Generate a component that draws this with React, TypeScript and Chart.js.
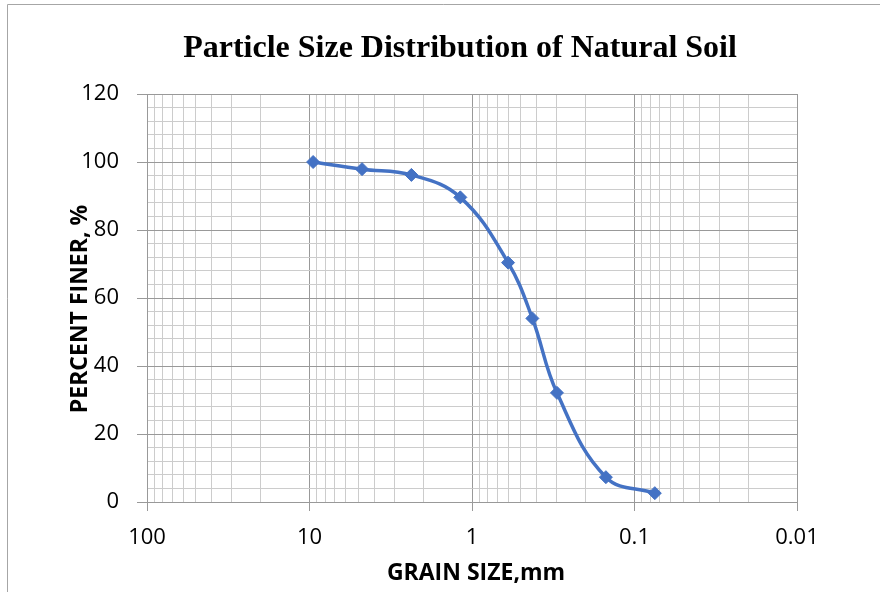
import React, { useEffect, useRef } from 'react';
import { Chart, registerables } from 'chart.js';

Chart.register(...registerables);

// Data
const grainSize = [9.5, 4.75, 2.36, 1.18, 0.6, 0.425, 0.3, 0.15, 0.075];
const percentFiner = [100, 97.9, 96.2, 89.6, 70.4, 54.0, 32.1, 7.3, 2.6];

// Axis ticks
const xDecades = [100, 10, 1, 0.1, 0.01];
const xMinorMultipliers = [2, 3, 4, 5, 6, 7, 8, 9];
const yMajorTicks = [0, 20, 40, 60, 80, 100, 120];
const yMinorStep = 4;

const chartTitle = 'Particle Size Distribution of Natural Soil';
const xTitle = 'GRAIN SIZE,mm';
const yTitle = 'PERCENT FINER, %';

const MAJOR = '#999999';
const MINOR = '#cccccc';
const LINE = '#4472C4';

const isDecade = (v: number) => xDecades.some((d) => Math.abs(d - v) < d * 1e-9);
const isYMajor = (v: number) => yMajorTicks.includes(v);

function buildXTicks(): number[] {
  const out: number[] = [];
  xDecades.forEach((d) => {
    out.push(d);
    if (d < 100) {
      xMinorMultipliers.forEach((m) => out.push(parseFloat((d * m).toPrecision(6))));
    }
  });
  return out.sort((a, b) => a - b);
}

function buildYTicks(): number[] {
  const out: number[] = [];
  const max = yMajorTicks[yMajorTicks.length - 1];
  for (let v = 0; v <= max; v += yMinorStep) out.push(v);
  return out;
}

const decorPlugin = {
  id: 'decor',
  beforeDraw(chart: any) {
    const ctx = chart.ctx;
    ctx.save();
    ctx.fillStyle = '#ffffff';
    ctx.fillRect(0, 0, chart.width, chart.height);
    ctx.strokeStyle = '#a6a6a6';
    ctx.lineWidth = 1;
    ctx.beginPath();
    ctx.moveTo(7.5, chart.height);
    ctx.lineTo(7.5, 4.5);
    ctx.lineTo(chart.width, 4.5);
    ctx.stroke();
    ctx.restore();
  },
  afterDraw(chart: any) {
    const ctx = chart.ctx;
    ctx.save();
    ctx.fillStyle = '#000000';
    ctx.textAlign = 'center';
    ctx.textBaseline = 'alphabetic';
    ctx.font = 'bold 32px "Liberation Serif", "Times New Roman", serif';
    ctx.fillText(chartTitle, 460, 57);

    ctx.font = 'bold 23px "Open Sans", sans-serif';
    ctx.fillText(xTitle, 476, 580);

    ctx.translate(87, 309);
    ctx.rotate(-Math.PI / 2);
    ctx.fillText(yTitle, 0, 0);
    ctx.restore();
  },
};

export default function App() {
  const ref = useRef<HTMLCanvasElement | null>(null);

  useEffect(() => {
    if (!ref.current) return;
    const xTicks = buildXTicks();
    const yTicks = buildYTicks();
    const tickFont = { family: '"Open Sans", sans-serif', size: 22 };

    const chart = new Chart(ref.current, {
      type: 'line',
      data: {
        datasets: [
          {
            data: grainSize.map((x, i) => ({ x, y: percentFiner[i] })),
            borderColor: LINE,
            backgroundColor: LINE,
            borderWidth: 3.5,
            tension: 0.4,
            pointStyle: 'rectRot',
            pointRadius: 6.5,
            pointBackgroundColor: LINE,
            pointBorderColor: LINE,
            pointBorderWidth: 1,
            fill: false,
          },
        ],
      },
      options: {
        animation: false,
        responsive: false,
        devicePixelRatio: 1,
        layout: { padding: { left: 0, top: 94, right: 83, bottom: 0 } },
        plugins: { legend: { display: false }, title: { display: false }, tooltip: { enabled: false } },
        scales: {
          x: {
            type: 'logarithmic',
            reverse: true,
            min: 0.01,
            max: 100,
            afterBuildTicks: (scale: any) => {
              scale.ticks = xTicks.map((v) => ({ value: v }));
            },
            afterFit: (scale: any) => {
              scale.height = 90;
            },
            ticks: {
              autoSkip: false,
              maxRotation: 0,
              minRotation: 0,
              padding: 14,
              color: '#000000',
              font: tickFont,
              callback: (v: any) => (isDecade(Number(v)) ? String(v) : ''),
            },
            grid: {
              color: (c: any) => (c.tick && isDecade(c.tick.value) ? MAJOR : MINOR),
              tickColor: (c: any) => (c.tick && isDecade(c.tick.value) ? MAJOR : 'rgba(0,0,0,0)'),
              tickLength: 9,
              lineWidth: 1,
            },
            border: { color: MAJOR, width: 1 },
          },
          y: {
            type: 'linear',
            min: 0,
            max: 120,
            afterBuildTicks: (scale: any) => {
              scale.ticks = yTicks.map((v) => ({ value: v }));
            },
            afterFit: (scale: any) => {
              scale.width = 147;
            },
            ticks: {
              autoSkip: false,
              padding: 18,
              color: '#000000',
              font: tickFont,
              callback: (v: any) => (isYMajor(Number(v)) ? String(v) : ''),
            },
            grid: {
              color: (c: any) => (c.tick && isYMajor(c.tick.value) ? MAJOR : MINOR),
              tickColor: (c: any) => (c.tick && isYMajor(c.tick.value) ? MAJOR : 'rgba(0,0,0,0)'),
              tickLength: 10,
              lineWidth: 1,
            },
            border: { color: MAJOR, width: 1 },
          },
        },
      },
      plugins: [decorPlugin],
    } as any);

    return () => chart.destroy();
  }, []);

  return (
    <div style={{ position: 'absolute', left: 0, top: 0, width: 880, height: 592, background: '#fff' }}>
      <canvas ref={ref} width={880} height={592} style={{ display: 'block', width: 880, height: 592 }} />
    </div>
  );
}
